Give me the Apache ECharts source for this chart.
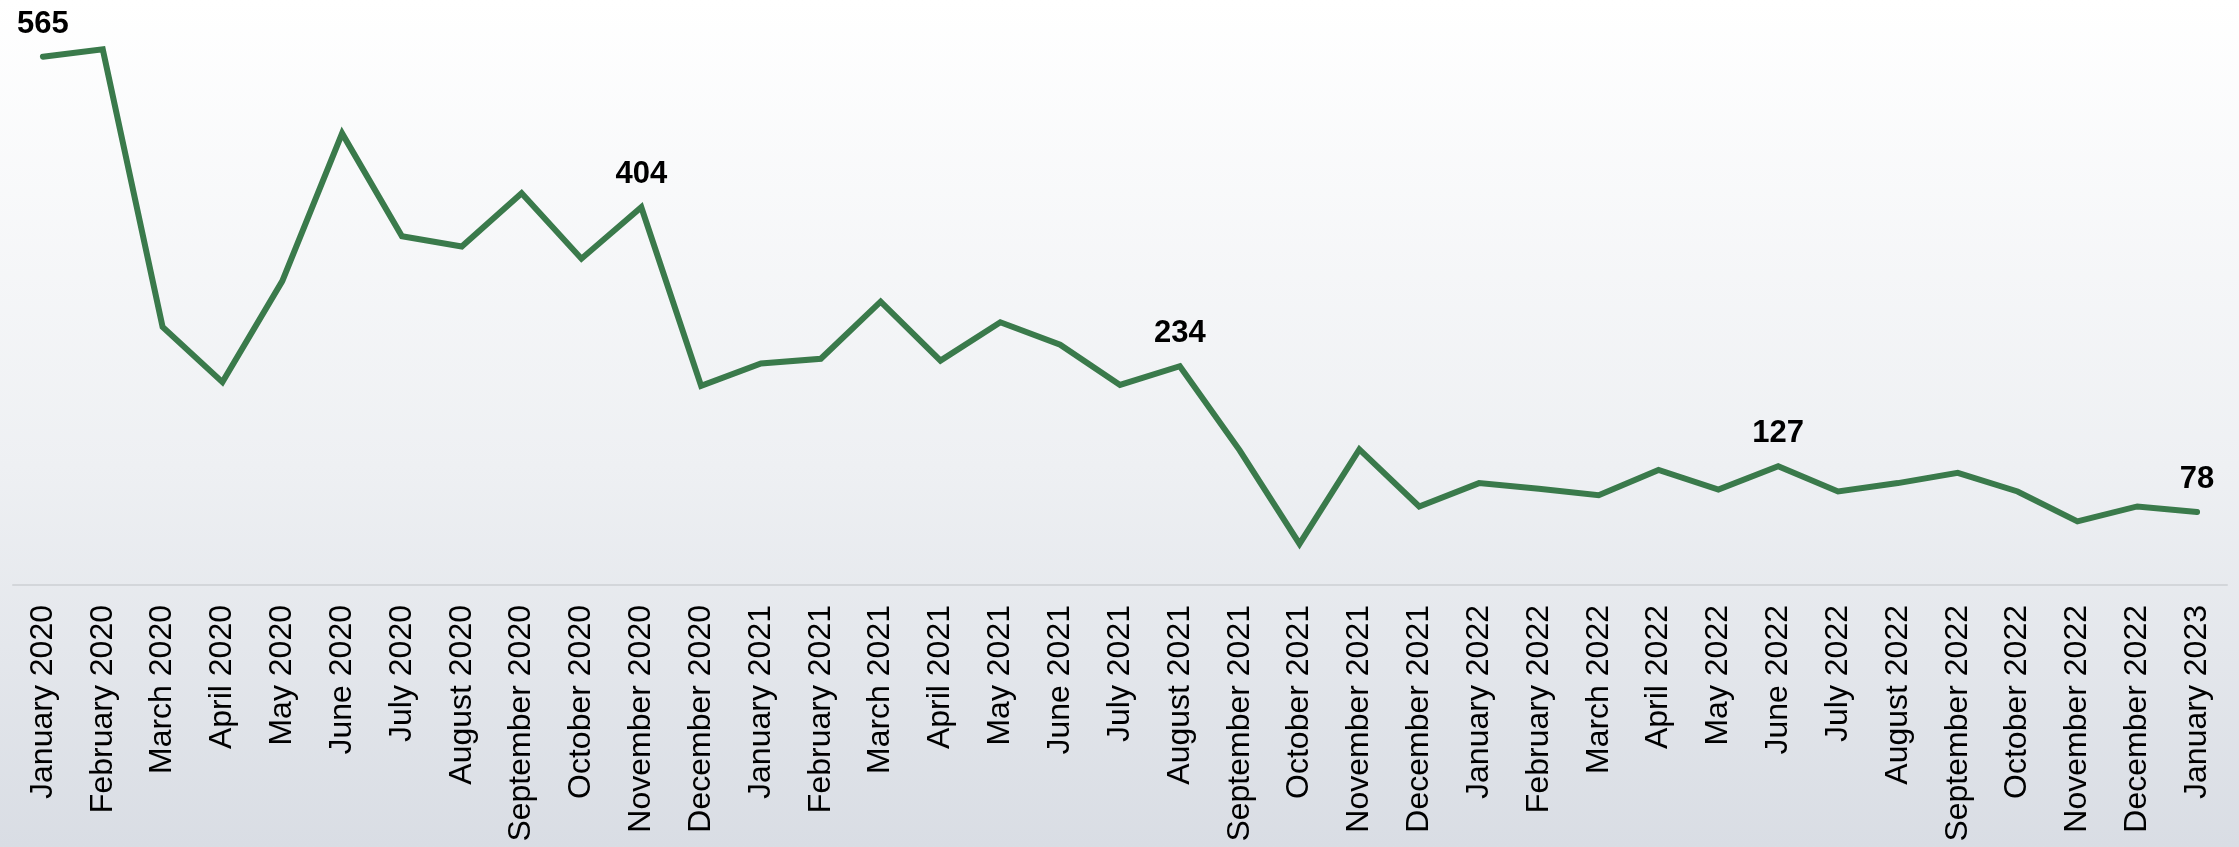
<!DOCTYPE html>
<html>
<head>
<meta charset="utf-8">
<title>Monthly trend</title>
<script src="https://cdn.jsdelivr.net/npm/echarts@6/dist/echarts.min.js"></script>
<style>
  html, body {
    margin: 0;
    padding: 0;
  }
  #chart {
    width: 2239px;
    height: 847px;
    background: linear-gradient(to bottom, #ffffff 0%, #eef0f3 55%, #d9dde4 100%);
  }
</style>
</head>
<body>
<div id="chart"></div>
<script>
const months = [
  "January 2020", "February 2020", "March 2020", "April 2020", "May 2020",
  "June 2020", "July 2020", "August 2020", "September 2020", "October 2020",
  "November 2020", "December 2020", "January 2021", "February 2021",
  "March 2021", "April 2021", "May 2021", "June 2021", "July 2021",
  "August 2021", "September 2021", "October 2021", "November 2021",
  "December 2021", "January 2022", "February 2022", "March 2022",
  "April 2022", "May 2022", "June 2022", "July 2022", "August 2022",
  "September 2022", "October 2022", "November 2022", "December 2022",
  "January 2023",
];

const counts = [
  565, 573, 276, 217, 325, 483, 373, 362, 419, 349, 404,
  213, 237, 242, 303, 240, 281, 257, 214, 234,
  144, 44, 145, 84, 109, 103, 96, 123, 102, 127, 100, 109, 120, 100, 68, 84, 78,
];

// points that carry a value label
const labelled = [0, 10, 19, 29, 36];

const chartDom = document.getElementById("chart");
const myChart = echarts.init(chartDom, null, { renderer: "canvas" });

const seriesData = counts.map((v, i) => ({
  value: v,
  label: { show: labelled.includes(i) },
}));

const option = {
  backgroundColor: "transparent",
  animation: false,
  grid: {
    left: 13,
    right: 12,
    top: 24,
    bottom: 262,
  },
  xAxis: {
    type: "category",
    boundaryGap: true,
    data: months,
    axisLine: { show: true, lineStyle: { color: "#d3d6da", width: 2 } },
    axisTick: { show: false },
    axisLabel: {
      interval: 0,
      rotate: 90,
      margin: 20,
      color: "#000",
      fontSize: 32,
      fontFamily: "Liberation Sans, Arial, sans-serif",
    },
  },
  yAxis: {
    type: "value",
    min: 0,
    max: 600,
    show: false,
    splitLine: { show: false },
  },
  series: [
    {
      type: "line",
      data: seriesData,
      showSymbol: true,
      symbol: "circle",
      symbolSize: 0,
      lineStyle: { color: "#3a7a4b", width: 6, cap: "round", join: "miter" },
      itemStyle: { color: "#3a7a4b" },
      label: {
        position: "top",
        distance: 17,
        color: "#000",
        fontSize: 31,
        fontWeight: "bold",
        fontFamily: "Liberation Sans, Arial, sans-serif",
      },
    },
  ],
};

option && myChart.setOption(option);
</script>
</body>
</html>
